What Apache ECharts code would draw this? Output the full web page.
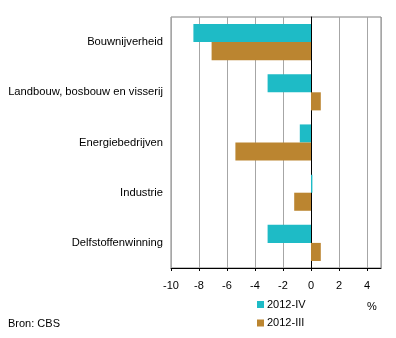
<!DOCTYPE html>
<html><head><meta charset="utf-8">
<script src="https://cdn.jsdelivr.net/npm/echarts@6/dist/echarts.min.js"></script>
<style>html,body{margin:0;padding:0;background:#fff}#c{width:396px;height:338px}</style>
</head><body><div id="c"></div>
<script>
var categories = ["Bouwnijverheid", "Landbouw, bosbouw en visserij", "Energiebedrijven", "Industrie", "Delfstoffenwinning"];
var series2012IV = [-8.4, -3.1, -0.8, 0.1, -3.1];
var series2012III = [-7.1, 0.7, -5.4, -1.2, 0.7];
var seriesNames = ["2012-IV", "2012-III"];
var xTicks = { min: -10, max: 5, interval: 2 };

var FONT = "Liberation Sans, Arial, sans-serif";
var chart = echarts.init(document.getElementById('c'), null, {renderer: 'canvas'});
chart.setOption({
  animation: false,
  backgroundColor: '#fff',
  grid: { left: 171, top: 17, right: 15, bottom: 70, show: true, borderColor: '#808080', borderWidth: 1, containLabel: false },
  xAxis: {
    type: 'value', min: xTicks.min, max: xTicks.max, interval: xTicks.interval,
    axisLine: { show: true, lineStyle: { color: '#000', width: 1 } },
    axisTick: { show: true, length: 3, lineStyle: { color: '#000' } },
    axisLabel: { color: '#000', fontFamily: FONT, fontSize: 11, margin: 12, showMaxLabel: false },
    splitLine: { show: true, lineStyle: { color: '#a6a6a6', width: 1 } }
  },
  yAxis: {
    type: 'category', data: categories, inverse: true,
    axisLine: { show: true, onZero: true, lineStyle: { color: '#000', width: 1 } },
    axisTick: { show: false },
    axisLabel: { color: '#000', fontFamily: FONT, fontSize: 11.2, margin: 8 },
    splitLine: { show: false }
  },
  legend: {
    orient: 'vertical', left: 257, top: 298.5, padding: 0, itemWidth: 7, itemHeight: 7, itemGap: 6.5,
    icon: 'rect',
    textStyle: { color: '#000', fontFamily: FONT, fontSize: 11, lineHeight: 12, padding: [0,0,0,-2] },
    data: seriesNames
  },
  graphic: [
    { type: 'text', left: 367, top: 301, style: { text: '%', fill: '#000', font: '11px ' + FONT } },
    { type: 'text', left: 8, top: 318, style: { text: 'Bron: CBS', fill: '#000', font: '11px ' + FONT } }
  ],
  series: [
    { name: seriesNames[0], type: 'bar', data: series2012IV, barCategoryGap: '28%', barGap: '0%', itemStyle: { color: '#1ebbc6' } },
    { name: seriesNames[1], type: 'bar', data: series2012III, barCategoryGap: '28%', barGap: '0%', itemStyle: { color: '#bb8530' } }
  ]
});
</script></body></html>
